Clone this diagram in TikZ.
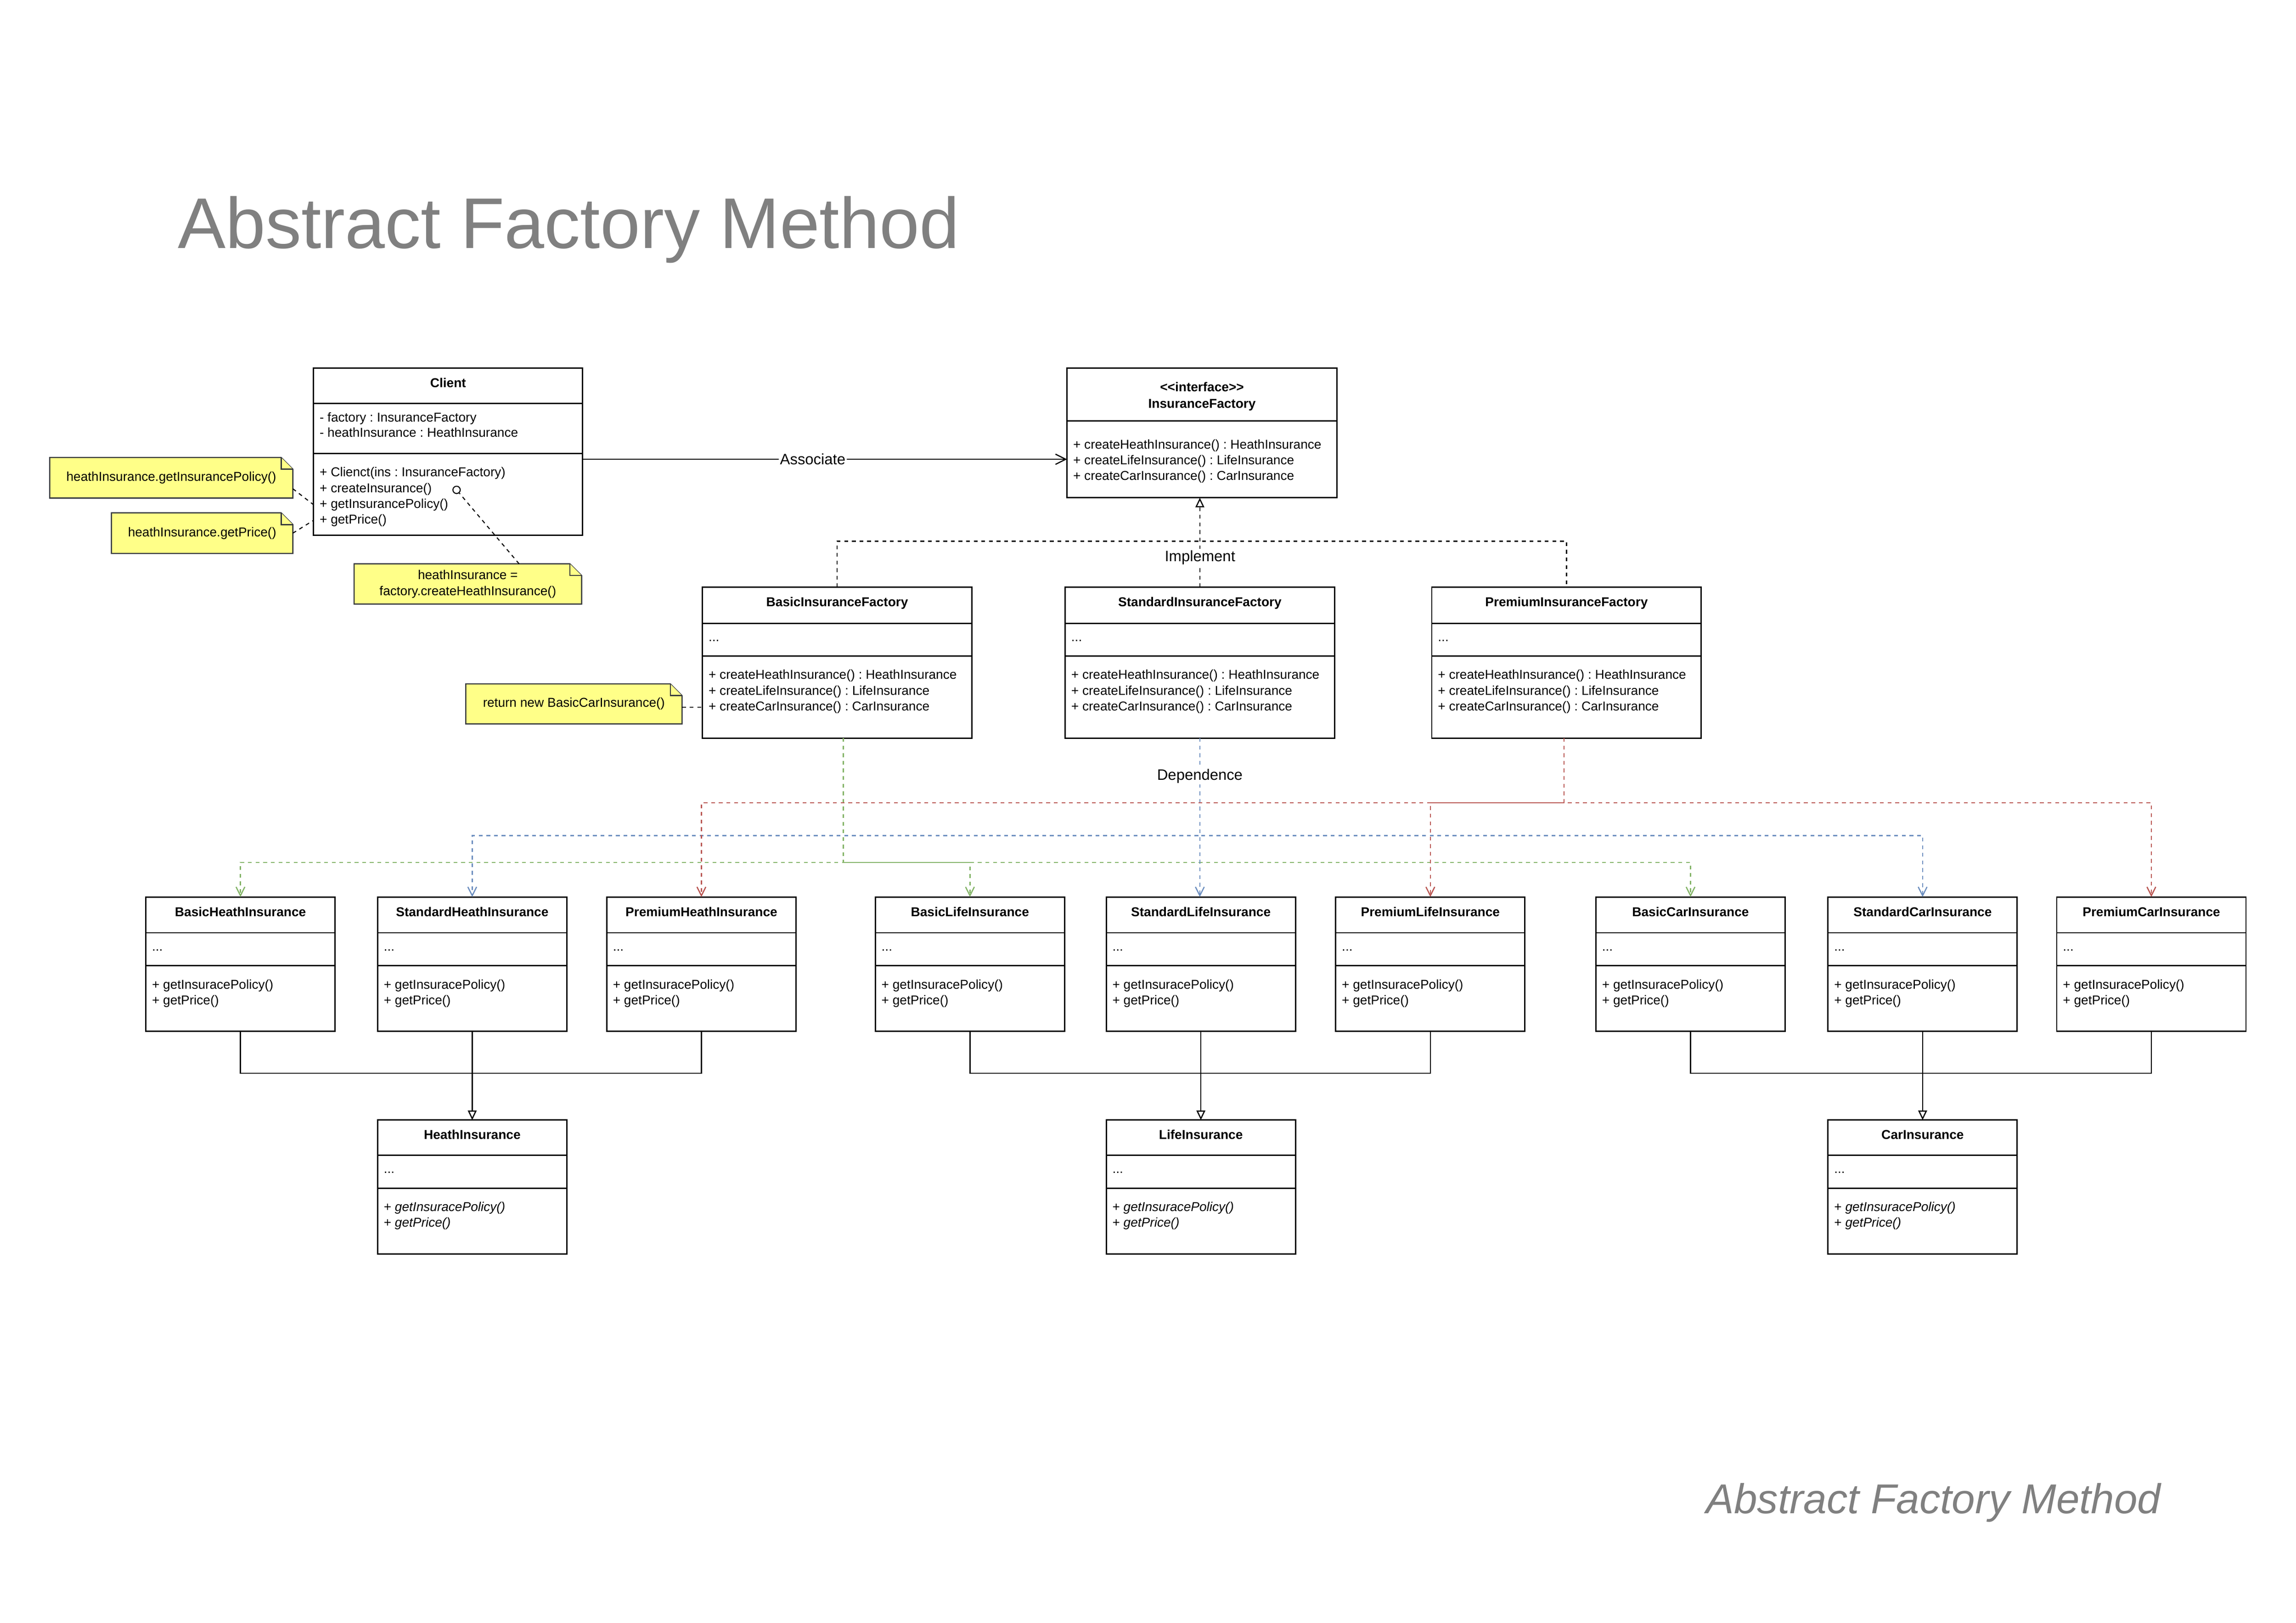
\documentclass[tikz,border=0pt]{standalone}
\usepackage{fontspec}
\setmainfont{Liberation Sans}
\usetikzlibrary{calc,arrows.meta,backgrounds}

\definecolor{depgreen}{HTML}{82B366}
\definecolor{depblue}{HTML}{6C8EBF}
\definecolor{depred}{HTML}{B85450}
\definecolor{notefill}{HTML}{FFFF88}
\definecolor{noteline}{HTML}{36393D}
\definecolor{titlegray}{HTML}{808080}

\tikzset{
  classbox/.style={draw, line width=0.9pt, inner sep=0pt, outer sep=0pt, anchor=north west},
  sepline/.style={line width=0.9pt},
  ctitle/.style={font=\fontsize{8.8}{10.7}\selectfont\bfseries\frenchspacing, inner sep=0pt, anchor=base},
  member/.style={font=\fontsize{8.8}{10.7}\selectfont\frenchspacing, inner sep=0pt, anchor=base west},
  notebox/.style={font=\fontsize{8.8}{11.1}\selectfont\frenchspacing, inner sep=0pt, outer sep=0pt, align=center},
  notepaint/.style={draw=noteline, fill=notefill, line width=0.8pt},
  notelink/.style={line width=0.7pt, dash pattern=on 2.6pt off 2.6pt},
  lbl/.style={font=\fontsize{10.3}{12}\selectfont, fill=white, inner sep=1pt},
  dep/.style={line width=0.8pt, dash pattern=on 2.6pt off 2.6pt, -{Straight Barb[length=6pt,width=6pt]}},
  impl/.style={line width=0.8pt, dash pattern=on 2.6pt off 2.6pt},
  gen/.style={line width=0.8pt},
  hollow/.style={-{Triangle[open,length=6.5pt,width=6pt]}},
  assoc/.style={line width=0.8pt, -{Straight Barb[length=7pt,width=7pt]}}
}

\newcommand{\etc}{.\kern0pt.\kern0pt.}
\def\setdims#1/#2/#3/#4\relax{\def\cw{#1}\def\ch{#2}\def\ca{#3}\def\cm{#4}}
% class box: name, top left, w/h1/h2/h3, title, attributes, methods
\newcommand{\umlclass}[6]{%
  \setdims#3\relax
  \node[classbox, minimum width=\cw, minimum height={\ch+\ca+\cm}] (#1) at (#2) {};
  \coordinate (#1-as) at ($(#1.north west)+(0,\ch)$);
  \coordinate (#1-ms) at ($(#1-as)+(0,\ca)$);
  \draw[sepline] (#1-as) -- ++(\cw,0) (#1-ms) -- ++(\cw,0);
  \node[ctitle] (#1-t) at ($(#1.north)+(0,13.2)$) {#4};
  \foreach \mtext [count=\i] in {#5}
    \node[member] (#1-a\i) at ($(#1-as)+(4,{12.3+(\i-1)*10.4})$) {\mtext};
  \foreach \mtext [count=\i] in {#6}
    \node[member] (#1-m\i) at ($(#1-ms)+(4,{15.9+(\i-1)*10.7})$) {\mtext};
}
% yellow note with folded corner, behind its text
\newcommand{\dognote}[1]{%
  \begin{pgfonlayer}{background}
    \path[notepaint] (#1.south west) -- (#1.north west) -- ([xshift=-8pt]#1.north east)
      -- ([yshift=-8pt]#1.north east) -- (#1.south east) -- cycle;
    \draw[notepaint] ([xshift=-8pt]#1.north east) -- ++(0,8) -- ([yshift=-8pt]#1.north east);
  \end{pgfonlayer}}

\begin{document}
\begin{tikzpicture}[x=1pt, y=-1pt]
  \useasboundingbox (0,0) rectangle (1568,1108);

  % titles
  \node[font=\fontsize{49}{58}\selectfont, text=titlegray, inner sep=0pt, anchor=base west] (title) at (121.2,169.5) {Abstract Factory Method};
  \node[font=\fontsize{28.5}{34}\selectfont\itshape, text=titlegray, inner sep=0pt, anchor=base west] (caption) at (1165,1033.5) {Abstract Factory Method};

  % client and interface
  \umlclass{client}{214.1,251.4}{183.8/24.2/34/56}{Client}
    {- factory : InsuranceFactory, - heathInsurance : HeathInsurance}
    {+ Clienct(ins : InsuranceFactory), + createInsurance(), + getInsurancePolicy(), + getPrice()}

  \node[classbox, minimum width=184.3, minimum height=88.5] (if) at (728.7,251.4) {};
  \draw[sepline] ($(if.north west)+(0,36.1)$) -- ++(184.3,0);
  \node[ctitle] (if-s) at ($(if.north)+(0,16)$) {<\kern0pt<interface>\kern0pt>};
  \node[ctitle] (if-t) at ($(if.north)+(0,27.1)$) {InsuranceFactory};
  \foreach \mtext [count=\i] in {+ createHeathInsurance() : HeathInsurance, + createLifeInsurance() : LifeInsurance, + createCarInsurance() : CarInsurance}
    \node[member] (if-m\i) at ($(if.north west)+(4,{55.2+(\i-1)*10.7})$) {\mtext};

  % factories
  \umlclass{bif}{479.7,401}{184/24.6/22.3/56.1}{BasicInsuranceFactory}{\etc}
    {+ createHeathInsurance() : HeathInsurance, + createLifeInsurance() : LifeInsurance, + createCarInsurance() : CarInsurance}
  \umlclass{sif}{727.4,401}{184/24.6/22.3/56.1}{StandardInsuranceFactory}{\etc}
    {+ createHeathInsurance() : HeathInsurance, + createLifeInsurance() : LifeInsurance, + createCarInsurance() : CarInsurance}
  \umlclass{pif}{977.8,401}{184/24.6/22.3/56.1}{PremiumInsuranceFactory}{\etc}
    {+ createHeathInsurance() : HeathInsurance, + createLifeInsurance() : LifeInsurance, + createCarInsurance() : CarInsurance}

  % concrete products
  \foreach \nm/\px/\ti in {bhi/99.6/BasicHeathInsurance, shi/257.9/StandardHeathInsurance, phi/414.4/PremiumHeathInsurance,
      bli/597.8/BasicLifeInsurance, sli/755.5/StandardLifeInsurance, pli/912.2/PremiumLifeInsurance,
      bci/1089.9/BasicCarInsurance, sci/1248.4/StandardCarInsurance, pci/1404.6/PremiumCarInsurance}
  {\umlclass{\nm}{\px,612.5}{129.2/24.4/22.4/44.9}{\ti}{\etc}{+ getInsuracePolicy(), + getPrice()}}

  % abstract products
  \umlclass{hi}{257.9,764.8}{129.2/24.1/22.4/44.9}{HeathInsurance}{\etc}{+ \textit{getInsuracePolicy()}, + \textit{getPrice()}}
  \umlclass{li}{755.5,764.8}{129.2/24.1/22.4/44.9}{LifeInsurance}{\etc}{+ \textit{getInsuracePolicy()}, + \textit{getPrice()}}
  \umlclass{ci}{1248.4,764.8}{129.2/24.1/22.4/44.9}{CarInsurance}{\etc}{+ \textit{getInsuracePolicy()}, + \textit{getPrice()}}

  % notes
  \node[notebox, minimum width=166, minimum height=27.7] (n1) at (117,326.25) {heathInsurance.getInsurancePolicy()};
  \dognote{n1}
  \node[notebox, minimum width=123.9, minimum height=27.7] (n2) at (138.05,364.05) {heathInsurance.getPrice()};
  \dognote{n2}
  \node[notebox, minimum width=155.4, minimum height=27.5] (n3) at (319.5,398.75) {heathInsurance =\\factory.createHeathInsurance()};
  \dognote{n3}
  \node[notebox, minimum width=147.7, minimum height=27.3] (n4) at (391.95,480.65) {return new BasicCarInsurance()};
  \dognote{n4}
  \node[circle, draw, line width=0.7pt, minimum size=5pt, inner sep=0pt] (dot) at (311.8,334.5) {};

  \draw[notelink] ([yshift=-7.5pt]n1.east) -- (client.west |- client-m3);
  \draw[notelink] (n2.east) -- (client.west |- client-m4);
  \draw[notelink] ([xshift=35pt]n3.north) -- (dot);
  \draw[notelink] (n4.east |- bif-m3) -- (bif.west |- bif-m3);

  % associate
  \coordinate (assocy) at (0,313.6);
  \draw[assoc] (client.east |- assocy) -- (if.west |- assocy) node[lbl, pos=0.475] (assoclbl) {Associate};

  % implement
  \coordinate (ib) at ($(sif.north)+(0,-31.5)$);
  \draw[impl] (bif.north) |- (ib) -| (pif.north);
  \draw[impl, hollow] (sif.north) -- (sif.north |- if.south);
  \node[lbl] (impllbl) at (819.5,380.7) {Implement};

  % dependence
  \coordinate (g0) at ([xshift=4.2pt]bif.south);
  \coordinate (gb) at ($(g0)+(0,84.9)$);
  \draw[dep, depgreen] (g0) -- (gb) -| (bhi.north);
  \draw[dep, depgreen] (g0) -- (gb) -| (bci.north);
  \draw[dep, depgreen, dash phase=4.3pt] (gb) -| (bli.north);

  \coordinate (bb) at ($(sif.south)+(0,66.6)$);
  \draw[dep, depblue] (sif.south) -- (bb) -| (shi.north);
  \draw[dep, depblue] (sif.south) -- (bb) -| (sci.north);
  \draw[dep, depblue] (sif.south) -- (sif.south |- sli.north);

  \coordinate (r0) at ([xshift=-1.7pt]pif.south);
  \coordinate (rb) at ($(r0)+(0,44.2)$);
  \draw[dep, depred] (r0) -- (rb) -| (phi.north);
  \draw[dep, depred] (r0) -- (rb) -| (pci.north);
  \draw[dep, depred] (rb) -| (pli.north);
  \node[lbl] (deplbl) at (819.4,529.9) {Dependence};

  % generalization
  \draw[gen] (bhi.south) -- ++(0,28.7) -| (phi.south);
  \draw[gen, hollow] (shi.south) -- (hi.north);
  \draw[gen] (bli.south) -- ++(0,28.7) -| (pli.south);
  \draw[gen, hollow] (sli.south) -- (li.north);
  \draw[gen] (bci.south) -- ++(0,28.7) -| (pci.south);
  \draw[gen, hollow] (sci.south) -- (ci.north);
\end{tikzpicture}
\end{document}
